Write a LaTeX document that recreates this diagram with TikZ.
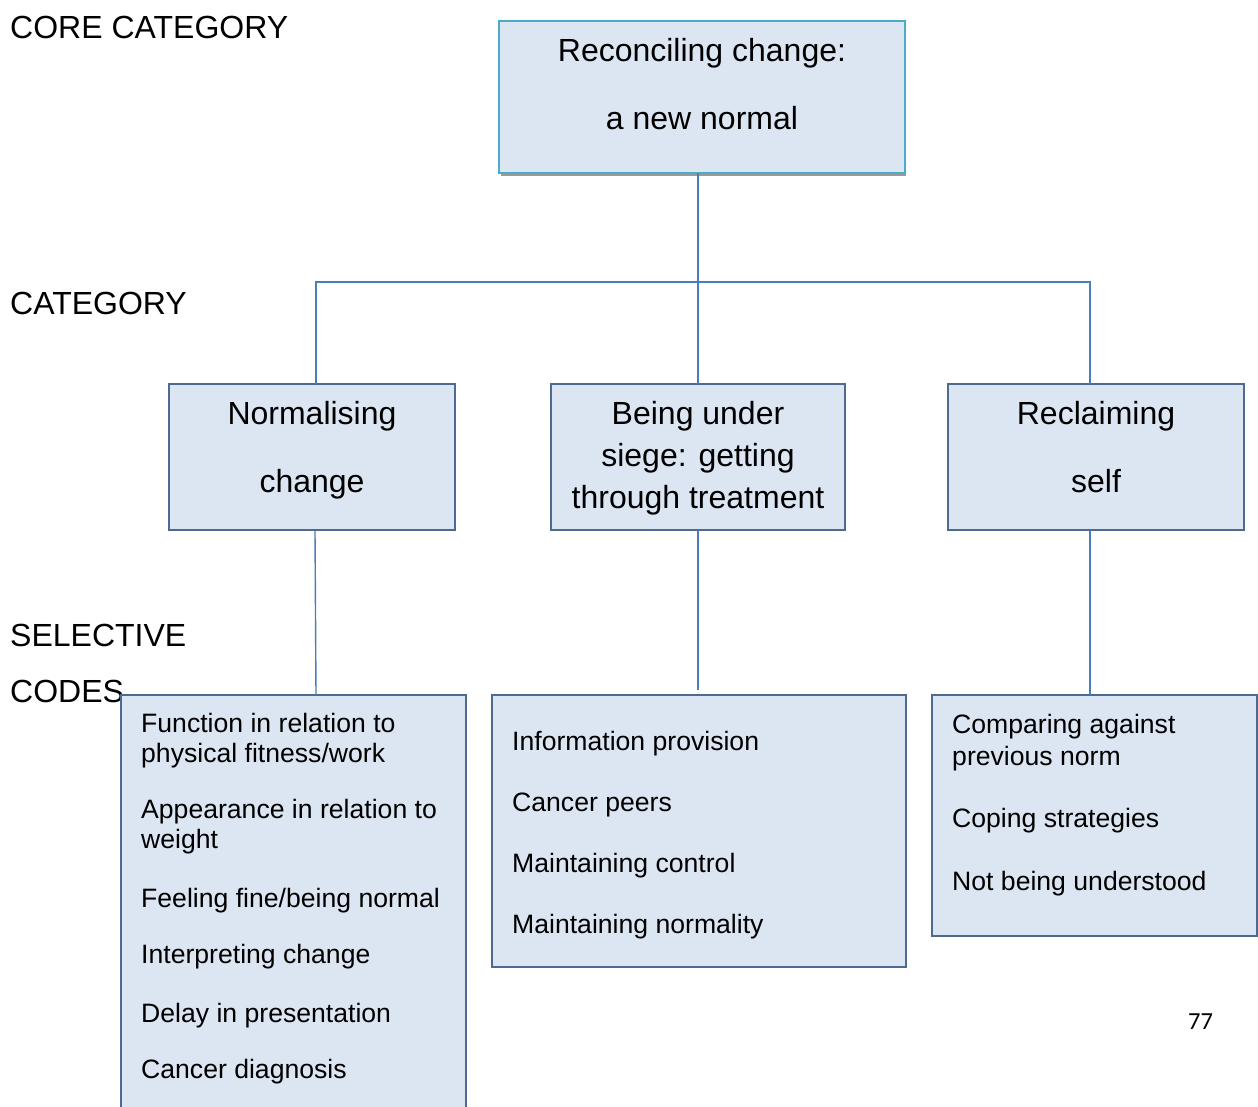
\documentclass[tikz,border=0pt]{standalone}
\usepackage{fontspec}
\setmainfont{Liberation Sans}
\newfontfamily\pagenumfont{Carlito}
\usetikzlibrary{calc}
\definecolor{boxfill}{HTML}{DCE6F2}
\definecolor{boxline}{HTML}{4F6A8F}
\definecolor{coreline}{HTML}{4BACC6}
\definecolor{connline}{HTML}{4A7EBB}
\definecolor{shadowgray}{HTML}{9A9A9A}
\begin{document}
\begin{tikzpicture}[x=1pt,y=-1pt,
  box/.style={draw=boxline, fill=boxfill, line width=1.1pt, inner sep=0pt, outer sep=0pt, anchor=north west},
  corebox/.style={draw=coreline, fill=boxfill, line width=1.8pt, inner sep=0pt, outer sep=0pt, anchor=north west},
  txt/.style={anchor=base west, inner sep=0pt, font=\fontsize{26.6}{30}\selectfont},
  head/.style={anchor=base, inner sep=0pt, font=\fontsize{32}{36}\selectfont},
  lvl/.style={anchor=base west, inner sep=0pt, font=\fontsize{32}{36}\selectfont},
  conn/.style={draw=connline, line width=1.4pt}]
\useasboundingbox (0,0) rectangle (1258,1107);
\clip (0,0) rectangle (1258,1107);
\fill[white] (0,0) rectangle (1258,1107);

% level labels
\node[lvl] (lcore) at (10,39) {CORE CATEGORY};
\node[lvl] (lcat) at (10,315) {CATEGORY};
\node[lvl] (lsel) at (10,646) {SELECTIVE};
\node[lvl] (lcodes) at (10,702) {CODES};

% core box with shadow
\fill[shadowgray] (501,24) rectangle (906,176);
\node[corebox, minimum width=406pt, minimum height=152pt] (core) at (499,21) {};
\node[head] (core1) at (702,62) {Reconciling change:};
\node[head] (core2) at (702,130) {a new normal};

% category boxes
\node[box, minimum width=286pt, minimum height=146pt] (cat1) at (169,384) {};
\node[box, minimum width=294pt, minimum height=146pt] (cat2) at (551,384) {};
\node[box, minimum width=296pt, minimum height=146pt] (cat3) at (948,384) {};

\node[head] (c1a) at (312,424) {Normalising};
\node[head] (c1b) at (312,492) {change};
\node[head] (c2a) at (698,424) {Being under};
\node[head] (c2b) at (698,466) {siege: getting};
\node[head] (c2c) at (698,508) {through treatment};
\node[head] (c3a) at (1096,424) {Reclaiming};
\node[head] (c3b) at (1096,492) {self};

% connectors level 1
\coordinate (j) at (698,282);
\coordinate (j1) at (316,282);
\coordinate (j3) at (1090,282);
\draw[conn] (core.south -| j) -- (cat2.north -| j);
\draw[conn] (j1 |- cat1.north) -- (j1) -- (j3) -- (j3 |- cat3.north);

% code boxes
\node[box, minimum width=345pt, minimum height=420pt] (codes1) at (121,695) {};
\node[box, minimum width=414pt, minimum height=272pt] (codes2) at (492,695) {};
\node[box, minimum width=325pt, minimum height=241pt] (codes3) at (932,695) {};

% connectors level 2
\coordinate (b1top) at (315,531);
\coordinate (b2end) at (698,690);
\draw[conn] (b1top) -- (316,695);
\draw[conn] (cat2.south -| b2end) -- (b2end);
\draw[conn] (cat3.south -| j3) -- (codes3.north -| j3);

% code texts
\node[txt] (t11) at (141,732) {Function in relation to};
\node[txt] (t12) at (141,762) {physical fitness/work};
\node[txt] (t13) at (141,818) {Appearance in relation to};
\node[txt] (t14) at (141,848) {weight};
\node[txt] (t15) at (141,907) {Feeling fine/being normal};
\node[txt] (t16) at (141,963) {Interpreting change};
\node[txt] (t17) at (141,1022) {Delay in presentation};
\node[txt] (t18) at (141,1078) {Cancer diagnosis};

\node[txt] (t21) at (512,750) {Information provision};
\node[txt] (t22) at (512,811) {Cancer peers};
\node[txt] (t23) at (512,872) {Maintaining control};
\node[txt] (t24) at (512,933) {Maintaining normality};

\node[txt] (t31) at (952,733) {Comparing against};
\node[txt] (t32) at (952,765) {previous norm};
\node[txt] (t33) at (952,827) {Coping strategies};
\node[txt] (t34) at (952,890) {Not being understood};

% page number
\node[anchor=base west, inner sep=0pt, font=\pagenumfont\fontsize{24.5}{28}\selectfont] (pnum) at (1188,1029) {77};
\end{tikzpicture}
\end{document}
